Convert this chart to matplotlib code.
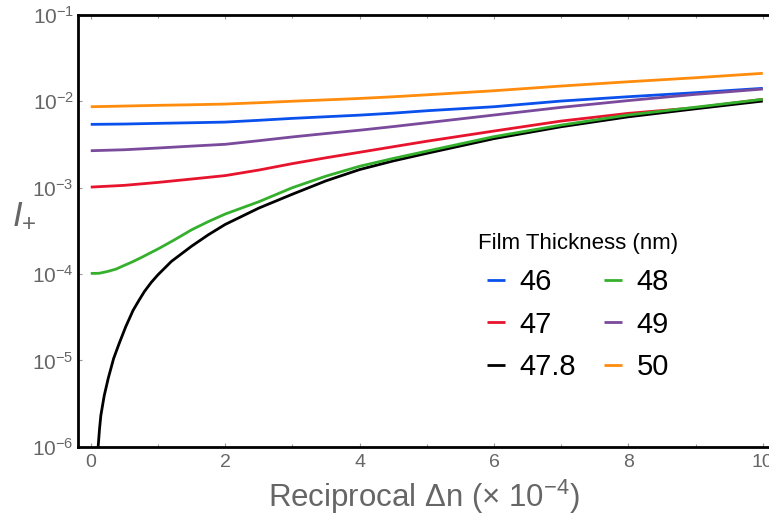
import matplotlib
matplotlib.use("Agg")
import matplotlib.pyplot as plt
from matplotlib.ticker import LogLocator, LogFormatterMathtext, MultipleLocator

plt.rcParams["font.family"] = ["Liberation Sans", "DejaVu Sans"]
plt.rcParams["mathtext.fontset"] = "custom"
plt.rcParams["mathtext.rm"] = "Liberation Sans"
plt.rcParams["mathtext.it"] = "Liberation Sans:italic"
plt.rcParams["mathtext.default"] = "regular"

# reciprocal delta-n (x 1e-4) sample points
x_main = [0, 0.5, 1, 1.5, 2, 2.5, 3, 3.5, 4, 4.5, 5, 6, 7, 8, 9, 10]

i_46 = [5.41e-3, 5.46e-3, 5.56e-3, 5.65e-3, 5.75e-3, 6.03e-3, 6.35e-3, 6.63e-3, 6.92e-3,
        7.30e-3, 7.78e-3, 8.66e-3, 1.008e-2, 1.131e-2, 1.259e-2, 1.415e-2]
i_47 = [1.016e-3, 1.064e-3, 1.151e-3, 1.259e-3, 1.38e-3, 1.60e-3, 1.90e-3, 2.22e-3, 2.57e-3,
        2.98e-3, 3.45e-3, 4.53e-3, 5.91e-3, 7.26e-3, 8.43e-3, 1.055e-2]
i_49 = [2.68e-3, 2.75e-3, 2.88e-3, 3.03e-3, 3.18e-3, 3.50e-3, 3.87e-3, 4.24e-3, 4.63e-3,
        5.10e-3, 5.65e-3, 6.94e-3, 8.52e-3, 1.021e-2, 1.205e-2, 1.388e-2]
i_50 = [8.66e-3, 8.82e-3, 8.99e-3, 9.13e-3, 9.30e-3, 9.64e-3, 1.003e-2, 1.040e-2, 1.080e-2,
        1.13e-2, 1.190e-2, 1.327e-2, 1.504e-2, 1.686e-2, 1.877e-2, 2.111e-2]

x_48 = [0, 0.125, 0.25, 0.375, 0.5, 0.625, 0.75, 0.875, 1, 1.25, 1.5, 1.75, 2, 2.5, 3, 3.5,
        4, 4.5, 5, 6, 7, 8, 9, 10]
i_48 = [1.016e-4, 1.02e-4, 1.07e-4, 1.14e-4, 1.26e-4, 1.39e-4, 1.55e-4, 1.74e-4, 1.95e-4,
        2.5e-4, 3.25e-4, 4.05e-4, 4.95e-4, 6.87e-4, 1.0e-3, 1.36e-3, 1.77e-3, 2.18e-3,
        2.65e-3, 3.90e-3, 5.31e-3, 6.95e-3, 8.55e-3, 1.055e-2]

x_478 = [0.07, 0.11, 0.13, 0.15, 0.2, 0.26, 0.34, 0.42, 0.52, 0.63, 0.72, 0.8, 0.9, 1.0,
         1.2, 1.5, 1.75, 2, 2.5, 3, 3.5, 4, 4.5, 5, 6, 7, 8, 9, 10]
i_478 = [5.0e-7, 1.0e-6, 1.6e-6, 2.3e-6, 3.9e-6, 6.2e-6, 1.05e-5, 1.55e-5, 2.45e-5, 3.8e-5,
         5.0e-5, 6.3e-5, 8.0e-5, 9.8e-5, 1.4e-4, 2.1e-4, 2.85e-4, 3.75e-4, 5.8e-4, 8.4e-4,
         1.2e-3, 1.62e-3, 2.04e-3, 2.50e-3, 3.70e-3, 5.08e-3, 6.62e-3, 8.20e-3, 1.008e-2]

series = [
    ("46", x_main, i_46, "#0a50ec"),
    ("47", x_main, i_47, "#e8132d"),
    ("47.8", x_478, i_478, "#000000"),
    ("48", x_48, i_48, "#34b02c"),
    ("49", x_main, i_49, "#7a4a9c"),
    ("50", x_main, i_50, "#ff8c0c"),
]

fig = plt.figure(figsize=(7.69, 5.14), dpi=100)
ax = fig.add_axes([78 / 769, 67.3 / 514, 691.5 / 769, 431.7 / 514])

for name, xs, ys, color in series:
    ax.plot(xs, ys, color=color, lw=2.0, label=name, solid_capstyle="butt",
            solid_joinstyle="round")

ax.set_yscale("log")
ax.set_xlim(-0.19, 10.1)
ax.set_ylim(1e-6, 1e-1)

ax.yaxis.set_major_locator(LogLocator(base=10, numticks=10))
ax.yaxis.set_major_formatter(LogFormatterMathtext())
ax.yaxis.set_minor_locator(LogLocator(base=10, subs=[], numticks=10))
ax.xaxis.set_major_locator(MultipleLocator(2))
ax.xaxis.set_minor_locator(MultipleLocator(1))

grey = "#666666"
ax.tick_params(axis="both", which="both", direction="in", color="#999999", width=0.8,
               top=True, right=False, labelcolor=grey)
ax.tick_params(axis="both", which="major", length=3)
ax.tick_params(axis="both", which="minor", length=2)
ax.tick_params(axis="x", labelsize=14, pad=5)
ax.tick_params(axis="y", labelsize=15, pad=3)

for side in ["left", "bottom", "top"]:
    ax.spines[side].set_linewidth(2.0)
    ax.spines[side].set_color("black")
ax.spines["right"].set_visible(False)

ax.set_xlabel(r"Reciprocal $\Delta$n (× $10^{-4}$)", fontsize=22.5, color=grey, labelpad=5)
ax.set_ylabel(r"$\mathit{I}_{+}$", fontsize=25, color=grey, rotation=0, va="center")
ax.yaxis.set_label_coords(-0.078, 0.537)

leg = ax.legend(ncol=2, frameon=False, title="Film Thickness (nm)", title_fontsize=16,
                fontsize=21, handlelength=0.62, handletextpad=0.5, columnspacing=0.95,
                labelspacing=0.49, borderpad=0, borderaxespad=0, loc="upper left",
                bbox_to_anchor=(478 / 769, 1 - 233 / 514), bbox_transform=fig.transFigure)
for line in leg.get_lines():
    line.set_linewidth(2.0)

fig.savefig("out.png", dpi=100)
